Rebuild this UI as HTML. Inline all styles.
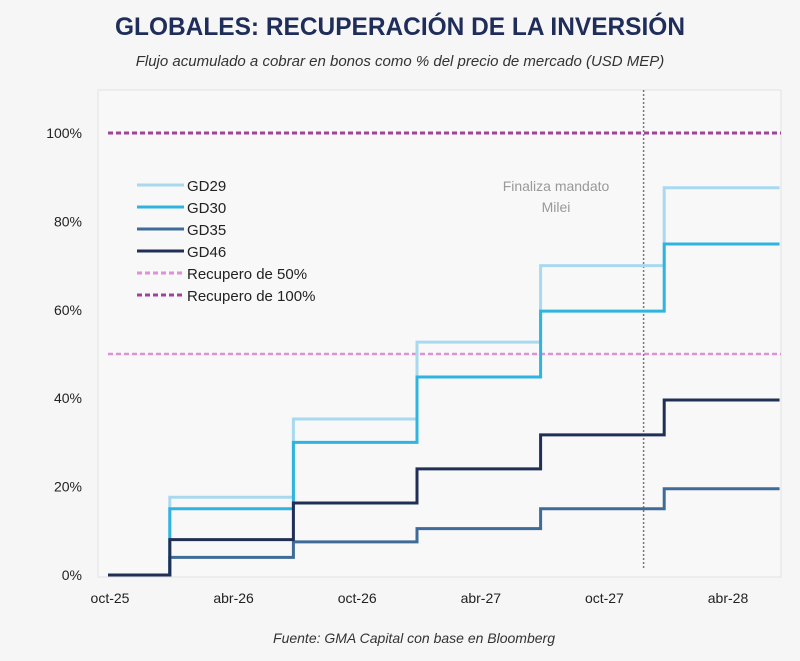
<!DOCTYPE html>
<html><head><meta charset="utf-8"><style>
body{margin:0;background:#f6f6f6;font-family:"Liberation Sans",sans-serif;}
svg{display:block}
</style></head><body>
<svg id="c" width="800" height="661">
<rect width="800" height="661" fill="#f6f6f6"/>
<text x="400" y="35" text-anchor="middle" font-size="25" font-weight="bold" fill="#1f2d5a" textLength="570" lengthAdjust="spacingAndGlyphs">GLOBALES: RECUPERACIÓN DE LA INVERSIÓN</text>
<text x="400" y="66" text-anchor="middle" font-size="15" font-style="italic" fill="#333">Flujo acumulado a cobrar en bonos como % del precio de mercado (USD MEP)</text>
<rect x="98" y="90" width="683" height="487" fill="#f8f8f8" stroke="#e2e2e2"/>
<g id="g"></g>
<text x="414" y="643" text-anchor="middle" font-size="14" font-style="italic" fill="#333">Fuente: GMA Capital con base en Bloomberg</text>
</svg>
<script>
const xLabels=["oct-25","abr-26","oct-26","abr-27","oct-27","abr-28"];
const yTicks=[0,20,40,60,80,100];
const stepMonths=[0,3,9,15,21,27];
const endMonth=32.6;
const gd29=[0,17.6,35.3,52.7,70,87.6];
const gd30=[0,15,30,44.8,59.7,74.9];
const gd35=[0,4,7.5,10.5,15,19.5];
const gd46=[0,8,16.3,24,31.7,39.6];
const mandateMonth=26;
const ns="http://www.w3.org/2000/svg",g=document.getElementById('g');
const X=m=>108+m*20.6, Y=v=>575-v*4.42;
function el(t,a){const e=document.createElementNS(ns,t);for(const k in a)e.setAttribute(k,a[k]);g.appendChild(e);return e;}
yTicks.forEach(v=>{const t=el('text',{x:82,y:Y(v)+5,'text-anchor':'end','font-size':14,fill:'#222'});t.textContent=v+'%';

});
xLabels.forEach((l,i)=>{const t=el('text',{x:X(i*6)+2,y:603,'text-anchor':'middle','font-size':14,fill:'#222'});t.textContent=l;

});
const h100=el('line',{x1:108,x2:781,y1:Y(100),y2:Y(100),stroke:'#a0439e','stroke-width':3,'stroke-dasharray':'5,3'});


const h50=el('line',{x1:108,x2:781,y1:Y(50),y2:Y(50),stroke:'#dc92d8','stroke-width':2.5,'stroke-dasharray':'5,3'});


const vl=el('line',{x1:X(mandateMonth),x2:X(mandateMonth),y1:90,y2:570,stroke:'#777','stroke-width':1.5,'stroke-dasharray':'2,2'});


[["Finaliza mandato",191],["Milei",212]].forEach(([s,y])=>{const t=el('text',{x:556,y:y,'text-anchor':'middle','font-size':14,fill:'#999'});t.textContent=s;

});
const series=[[gd29,'#a9d9ef','GD29'],[gd30,'#2fb3df','GD30'],[gd35,'#3f6b98','GD35'],[gd46,'#1f2f55','GD46']];
series.forEach(([d,c,n])=>{let p='M'+X(stepMonths[0])+','+Y(d[0]);
for(let i=1;i<d.length;i++){p+=' H'+X(stepMonths[i])+' V'+Y(d[i]);}
p+=' H'+X(endMonth);
const e=el('path',{d:p,fill:'none',stroke:c,'stroke-width':3});

});
const leg=[['GD29','#a9d9ef',''],['GD30','#2fb3df',''],['GD35','#3f6b98',''],['GD46','#1f2f55',''],['Recupero de 50%','#dc92d8','5,3'],['Recupero de 100%','#a0439e','5,3']];
leg.forEach(([n,c,da],i)=>{const y=185+i*22;
const l=el('line',{x1:137,x2:184,y1:y,y2:y,stroke:c,'stroke-width':3,'stroke-dasharray':da});


const t=el('text',{x:187,y:y+6,'font-size':15,fill:'#222'});t.textContent=n;

});
</script>
</body></html>
